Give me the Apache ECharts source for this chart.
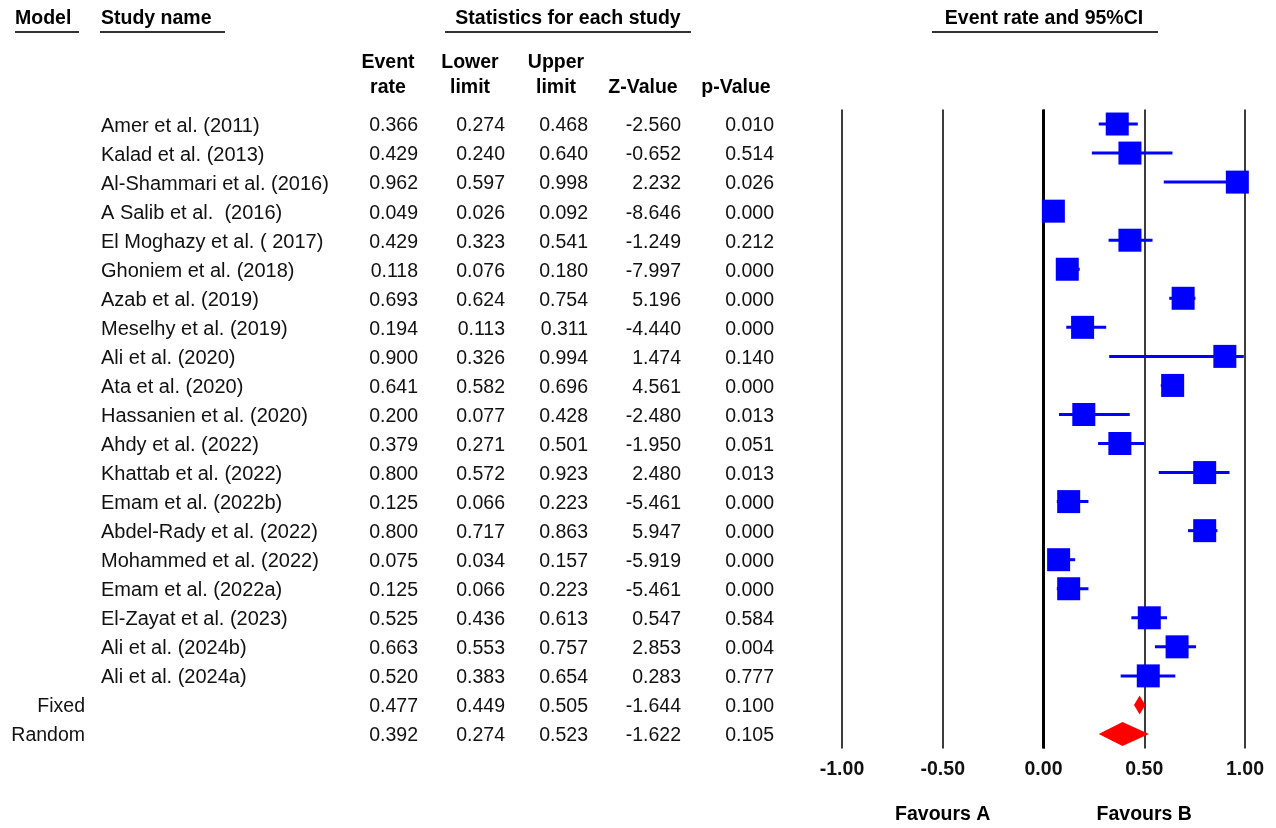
<!DOCTYPE html>
<html>
<head>
<meta charset="utf-8">
<title>Event rate forest plot</title>
<script src="https://cdn.jsdelivr.net/npm/echarts@6/dist/echarts.min.js"></script>
<style>
  html, body { margin: 0; padding: 0; background: #ffffff; }
  #chart { width: 1276px; height: 828px; }
</style>
</head>
<body>
<div id="chart"></div>
<script>
// ---- study-level results ----
const studyNames = [
  'Amer et al. (2011)', 'Kalad et al. (2013)', 'Al-Shammari et al. (2016)',
  'A Salib et al.  (2016)', 'El Moghazy et al. ( 2017)', 'Ghoniem et al. (2018)',
  'Azab et al. (2019)', 'Meselhy et al. (2019)', 'Ali et al. (2020)',
  'Ata et al. (2020)', 'Hassanien et al. (2020)', 'Ahdy et al. (2022)',
  'Khattab et al. (2022)', 'Emam et al. (2022b)', 'Abdel-Rady et al. (2022)',
  'Mohammed et al. (2022)', 'Emam et al. (2022a)', 'El-Zayat et al. (2023)',
  'Ali et al. (2024b)', 'Ali et al. (2024a)'
];
const eventRate = [0.366, 0.429, 0.962, 0.049, 0.429, 0.118, 0.693, 0.194, 0.900, 0.641,
                   0.200, 0.379, 0.800, 0.125, 0.800, 0.075, 0.125, 0.525, 0.663, 0.520];
const lowerLimit = [0.274, 0.240, 0.597, 0.026, 0.323, 0.076, 0.624, 0.113, 0.326, 0.582,
                    0.077, 0.271, 0.572, 0.066, 0.717, 0.034, 0.066, 0.436, 0.553, 0.383];
const upperLimit = [0.468, 0.640, 0.998, 0.092, 0.541, 0.180, 0.754, 0.311, 0.994, 0.696,
                    0.428, 0.501, 0.923, 0.223, 0.863, 0.157, 0.223, 0.613, 0.757, 0.654];
const zValue = [-2.560, -0.652, 2.232, -8.646, -1.249, -7.997, 5.196, -4.440, 1.474, 4.561,
                -2.480, -1.950, 2.480, -5.461, 5.947, -5.919, -5.461, 0.547, 2.853, 0.283];
const pValue = [0.010, 0.514, 0.026, 0.000, 0.212, 0.000, 0.000, 0.000, 0.140, 0.000,
                0.013, 0.051, 0.013, 0.000, 0.000, 0.000, 0.000, 0.584, 0.004, 0.777];

// ---- pooled estimates ----
const modelNames = ['Fixed', 'Random'];
const modelRate = [0.477, 0.392];
const modelLower = [0.449, 0.274];
const modelUpper = [0.505, 0.523];
const modelZ = [-1.644, -1.622];
const modelP = [0.100, 0.105];

// ---- axis ----
const xTicks = [-1.00, -0.50, 0.00, 0.50, 1.00];
const sideLabels = [{ text: 'Favours A', at: -0.5 }, { text: 'Favours B', at: 0.5 }];

// one row per study, then the two pooled models
const rowKeys = studyNames.concat(modelNames);
const nStudies = studyNames.length;
const allRate = eventRate.concat(modelRate);
const allLower = lowerLimit.concat(modelLower);
const allUpper = upperLimit.concat(modelUpper);
const allZ = zValue.concat(modelZ);
const allP = pValue.concat(modelP);

const FONT = '"Liberation Sans", Arial, sans-serif';
const INK = '#111111';
const TEXT_NUDGE = 2; // optical centring of row text

// right edges of the numeric table columns (px)
const numCols = [
  { values: allRate, right: 418, header: 'Event\nrate', center: 388 },
  { values: allLower, right: 505, header: 'Lower\nlimit', center: 470 },
  { values: allUpper, right: 588, header: 'Upper\nlimit', center: 556 },
  { values: allZ, right: 681, header: 'Z-Value', center: 643, single: true },
  { values: allP, right: 774, header: 'p-Value', center: 736, single: true }
];

const chart = echarts.init(document.getElementById('chart'), null, { renderer: 'canvas' });

function tableRow(params, api) {
  const i = api.value(1);
  const y = api.coord([0, i])[1] + TEXT_NUDGE;
  const children = [];
  if (i < nStudies) {
    children.push({ type: 'text', style: { x: 101, y: y, text: studyNames[i], fill: INK,
      font: '20px ' + FONT, textAlign: 'left', textVerticalAlign: 'middle' } });
  } else {
    children.push({ type: 'text', style: { x: 85, y: y, text: modelNames[i - nStudies], fill: INK,
      font: '19.5px ' + FONT, textAlign: 'right', textVerticalAlign: 'middle' } });
  }
  numCols.forEach(function (c) {
    children.push({ type: 'text', style: { x: c.right, y: y, text: c.values[i].toFixed(3), fill: INK,
      font: '19.5px ' + FONT, textAlign: 'right', textVerticalAlign: 'middle' } });
  });
  return { type: 'group', children: children };
}

function ciLine(params, api) {
  const i = api.value(2);
  const a = api.coord([api.value(0), i]);
  const b = api.coord([api.value(1), i]);
  return { type: 'line', shape: { x1: a[0], y1: a[1], x2: b[0], y2: b[1] },
    style: { stroke: '#0000ff', lineWidth: 3 } };
}

function diamond(params, api) {
  const i = api.value(3);
  const lo = api.coord([api.value(0), i]);
  const mid = api.coord([api.value(1), i]);
  const hi = api.coord([api.value(2), i]);
  const h = params.dataIndex === 0 ? 9.5 : 12;
  return { type: 'polygon', shape: { points: [[lo[0], lo[1]], [mid[0], mid[1] - h], [hi[0], hi[1]], [mid[0], mid[1] + h]] },
    style: { fill: '#ff0000' } };
}

// header texts and their underlines
const headerGraphic = [];
function header(text, x, align, lineFrom, lineTo) {
  headerGraphic.push({ type: 'text', style: { x: x, y: 19, text: text, fill: '#000',
    font: 'bold 19.5px ' + FONT, textAlign: align, textVerticalAlign: 'middle' } });
  headerGraphic.push({ type: 'line', shape: { x1: lineFrom, y1: 32, x2: lineTo, y2: 32 },
    style: { stroke: '#333', lineWidth: 2 } });
}
header('Model', 15, 'left', 15, 79);
header('Study name', 101, 'left', 100, 225);
header('Statistics for each study', 568, 'center', 445, 691);
header('Event rate and 95%CI', 1044, 'center', 932, 1158);
numCols.forEach(function (c) {
  headerGraphic.push({ type: 'text', style: { x: c.center, y: c.single ? 88 : 75.5, text: c.header,
    fill: '#000', font: 'bold 19.5px ' + FONT, textAlign: 'center', textVerticalAlign: 'middle',
    lineHeight: 25 } });
});

const option = {
  animation: false,
  backgroundColor: '#ffffff',
  grid: { left: 842, right: 31, top: 109.5, bottom: 79.5, containLabel: false },
  xAxis: {
    type: 'value', min: xTicks[0], max: xTicks[xTicks.length - 1], interval: 0.5,
    axisLine: { show: false }, axisTick: { show: false },
    axisLabel: { color: INK, fontFamily: FONT, fontSize: 19.5, fontWeight: 'bold', margin: 11,
      formatter: function (v) { return v.toFixed(2); } },
    splitLine: { show: true, lineStyle: { color: '#3c3c3c', width: 2 } }
  },
  yAxis: {
    type: 'category', data: rowKeys, inverse: true,
    axisLine: { show: false }, axisTick: { show: false }, axisLabel: { show: false },
    splitLine: { show: false }
  },
  series: [
    {
      name: 'table', type: 'custom', renderItem: tableRow, silent: true, clip: false,
      data: rowKeys.map(function (k, i) { return [0, i]; })
    },
    {
      name: 'ci', type: 'custom', renderItem: ciLine, silent: true, z: 3,
      encode: { x: [0, 1], y: 2 },
      data: studyNames.map(function (n, i) { return [lowerLimit[i], upperLimit[i], i]; })
    },
    {
      name: 'Event rate', type: 'scatter', symbol: 'rect', symbolSize: 23, z: 4,
      itemStyle: { color: '#0000ff', opacity: 1 },
      data: studyNames.map(function (n, i) { return [eventRate[i], i]; }),
      markLine: {
        silent: true, symbol: 'none', label: { show: false },
        lineStyle: { color: '#000', width: 3, type: 'solid' },
        data: [{ xAxis: 0 }], z: 2
      }
    },
    {
      name: 'pooled', type: 'custom', renderItem: diamond, silent: true, z: 4,
      encode: { x: [0, 1, 2], y: 3 },
      data: modelNames.map(function (n, j) { return [modelLower[j], modelRate[j], modelUpper[j], nStudies + j]; })
    }
  ],
  graphic: headerGraphic
};

chart.setOption(option);

// "Favours" captions placed beneath the axis through the x scale
const favours = sideLabels.map(function (s) {
  const px = chart.convertToPixel({ xAxisIndex: 0 }, s.at);
  return { type: 'text', style: { x: px, y: 815, text: s.text, fill: '#000',
    font: 'bold 19.5px ' + FONT, textAlign: 'center', textVerticalAlign: 'middle' } };
});
chart.setOption({ graphic: headerGraphic.concat(favours) });
</script>
</body>
</html>
